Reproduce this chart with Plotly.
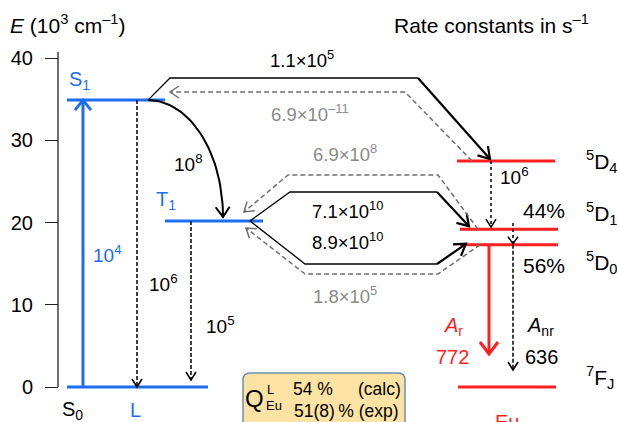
import numpy as np
import plotly.graph_objects as go

# ------------------------------------------------------------------ data
ligand_states = ["S<sub>0</sub>", "S<sub>1</sub>", "T<sub>1</sub>"]
ligand_energy = [0.0, 34.9, 20.2]                 # 10^3 cm^-1
eu_states = ["<sup>5</sup>D<sub>4</sub>", "<sup>5</sup>D<sub>1</sub>",
             "<sup>5</sup>D<sub>0</sub>", "<sup>7</sup>F<sub>J</sub>"]
eu_energy = [27.5, 19.2, 17.3, 0.0]               # 10^3 cm^-1
y_ticks = [0, 10, 20, 30, 40]

rate_ligand = ["10<sup>4</sup>", "10<sup>8</sup>", "10<sup>6</sup>", "10<sup>5</sup>"]
rate_transfer = ["1.1×10<sup>5</sup>", "6.9×10<sup>–11</sup>", "6.9×10<sup>8</sup>",
                 "7.1×10<sup>10</sup>", "8.9×10<sup>10</sup>", "1.8×10<sup>5</sup>"]
rate_eu = ["10<sup>6</sup>"]
branching = ["44%", "56%"]
a_rad, a_nonrad = 772, 636
q_calc, q_exp = "54 %", "51(8)\u2009% (exp)"

# ------------------------------------------------------------------ geometry helpers
W, H = 617, 422
PX0, K = 387.0, 8.22          # pixel row of E=0, pixels per 10^3 cm^-1


def ey(p):                     # pixel row -> energy units
    return (PX0 - p) / K


def py(e):                     # energy -> pixel row
    return PX0 - e * K


BLUE = "#1c6ef2"
RED = "#ff1f1f"
GRAY = "#6e6e6e"
GRAYTXT = "#8a8a8a"
FONT = "Liberation Sans, Arial, sans-serif"

S0, S1, T1 = ligand_energy
D4, D1, D0, FJ = eu_energy

fig = go.Figure()


def add_lines(paths, color, width, dash="solid"):
    xs, ys = [], []
    for pts in paths:
        for x, y in pts:
            xs.append(x)
            ys.append(y)
        xs.append(None)
        ys.append(None)
    fig.add_trace(go.Scatter(x=xs, y=ys, mode="lines",
                             line=dict(color=color, width=width, dash=dash),
                             hoverinfo="skip", showlegend=False))


def head(tip, prev, L=9.0, half=6.0):
    tx, ty = tip[0], py(tip[1])
    fx, fy = prev[0], py(prev[1])
    d = np.array([tx - fx, ty - fy], float)
    d /= np.linalg.norm(d)
    n = np.array([-d[1], d[0]])
    b = np.array([tx, ty]) - L * d
    p1, p2 = b + half * n, b - half * n
    return [(p1[0], ey(p1[1])), (tx, ey(ty)), (p2[0], ey(p2[1]))]


# ------------------------------------------------------------------ energy levels
levels_blue = [[(67, S0), (208, S0)], [(67, S1), (165, S1)], [(165, T1), (263, T1)]]
levels_red = [[(457, D4), (555, D4)], [(460, D1), (558, D1)],
              [(460, D0), (558, D0)], [(458, FJ), (556, FJ)]]
add_lines(levels_blue, BLUE, 3)
add_lines(levels_red, RED, 3)

# absorption arrow (blue)
abs_pts = [(83, S0), (83, S1)]
add_lines([abs_pts, head(abs_pts[1], abs_pts[0], 10, 8)], BLUE, 3)

# ligand decays (black dashed)
dS1 = [(137, S1), (137, S0)]
dT1 = [(191, T1), (191, ey(380))]
add_lines([dS1, dT1], "black", 1.5, "4px,2px")
add_lines([head(dS1[1], dS1[0], 8, 5), head(dT1[1], dT1[0], 8, 5)], "black", 1.5)

# ISC curved arrow S1 -> T1
t = np.linspace(0, np.pi / 2, 40)
cx, cy = 148, py(T1) - 4
curve = [(cx + 75 * np.sin(a), ey(cy - (cy - py(S1)) * np.cos(a))) for a in t]
add_lines([curve, head(curve[-1], curve[-4], 10, 7)], "black", 2)

# energy transfer paths (solid black)
top_y, up_y, lo_y = ey(78), ey(192), ey(264)
thin = [
    [(148, S1), (170, top_y), (418, top_y)],
    [(250, T1), (290, up_y), (437, up_y)],
    [(250, T1), (305, lo_y), (437, lo_y)],
]
add_lines(thin, "black", 1.3)
tk1 = [(418, top_y), (490, ey(py(D4) - 2))]
tk2 = [(437, up_y), (469, ey(py(D1) - 3))]
tk3 = [(437, lo_y), (466, ey(py(D0) - 1))]
add_lines([tk1, tk2, tk3, head(tk1[1], tk1[0], 11, 7), head(tk2[1], tk2[0], 11, 7),
           head(tk3[1], tk3[0], 11, 7)], "black", 2.2)

# back transfer paths (gray dashed)
g1 = [(472, D4), (405, ey(92)), (170, ey(92))]
g2 = [(478, D1), (438, ey(175)), (288, ey(175)), (244, ey(212))]
g3 = [(480, D0), (438, ey(274)), (305, ey(274)), (246, ey(228))]
add_lines([g1, g2, g3], GRAY, 1.5, "5px,3px")
add_lines([head(g1[-1], g1[-2], 9, 6), head(g2[-1], g2[-2], 9, 6),
           head(g3[-1], g3[-2], 9, 6)], GRAY, 1.5)

# Eu internal relaxation
e1 = [(491, D4), (491, ey(py(D1) - 2))]
e2 = [(513, ey(223)), (513, ey(py(D0) - 1))]
add_lines([e1, e2], "black", 1.5, "dot")
e3 = [(513, D0), (513, ey(370))]
add_lines([e3], "black", 1.5, "4px,2px")
add_lines([head(e1[1], e1[0], 8, 5), head(e2[1], e2[0], 7, 5), head(e3[1], e3[0], 8, 5)],
          "black", 1.5)

# radiative (red)
r1 = [(489, D0), (489, ey(354))]
add_lines([r1, head(r1[1], r1[0], 12, 9)], RED, 3)

# ------------------------------------------------------------------ shapes
shapes = [
    dict(type="line", xref="x", yref="y", x0=58, x1=58, y0=0, y1=ey(52),
         line=dict(color="#222", width=1.3)),
]
x0b, x1b, ytb, ybb, r = 243, 405, 373, 440, 7
box = (f"M {x0b},{ey(ybb)} L {x0b},{ey(ytb + r)} Q {x0b},{ey(ytb)} {x0b + r},{ey(ytb)} "
       f"L {x1b - r},{ey(ytb)} Q {x1b},{ey(ytb)} {x1b},{ey(ytb + r)} L {x1b},{ey(ybb)} Z")
shapes.append(dict(type="path", xref="x", yref="y", path=box, fillcolor="#fde3a3",
                   line=dict(color="#6c8db3", width=1.5), layer="below"))

# ------------------------------------------------------------------ text
ann = []


def txt(s, x, yp, color="black", size=18, xanchor="center"):
    ann.append(dict(text=s, x=x, y=ey(yp), xref="x", yref="y", showarrow=False,
                    xanchor=xanchor, yanchor="middle",
                    font=dict(family=FONT, size=size, color=color)))


txt("<i>E</i> (10<sup>3</sup> cm<sup>–1</sup>)", 8, 24, size=21, xanchor="left")
txt("Rate constants in s<sup>–1</sup>", 591, 24, size=21, xanchor="right")

txt(ligand_states[1], 79, 80, BLUE, 20)
txt(ligand_states[2], 166, 200, BLUE, 20)
txt(ligand_states[0], 72, 410, "black", 20)
txt("L", 135, 410, BLUE, 20)

txt(rate_ligand[0], 107, 254, BLUE, 19)
txt(rate_ligand[1], 188, 163, "black", 19)
txt(rate_ligand[2], 163, 283, "black", 19)
txt(rate_ligand[3], 220, 325, "black", 19)

txt(rate_transfer[0], 302, 59, "black", 18.5)
txt(rate_transfer[1], 310, 113, GRAYTXT, 18.5)
txt(rate_transfer[2], 345, 153, GRAYTXT, 18.5)
txt(rate_transfer[3], 348, 210, "black", 18.5)
txt(rate_transfer[4], 348, 241, "black", 18.5)
txt(rate_transfer[5], 345, 295, GRAYTXT, 18.5)

txt(rate_eu[0], 514, 176, "black", 19)
txt(branching[0], 544, 210, "black", 21)
txt(branching[1], 544, 265, "black", 21)

txt(eu_states[0], 584, 161, "black", 21, "left")
txt(eu_states[1], 584, 213, "black", 21, "left")
txt(eu_states[2], 584, 262, "black", 21, "left")
txt(eu_states[3], 584, 377, "black", 21, "left")

txt("<i>A</i><sub>r</sub>", 453, 326, RED, 20)
txt(str(a_rad), 452, 357, RED, 20)
txt("<i>A</i><sub>nr</sub>", 540, 326, "black", 20)
txt(str(a_nonrad), 541, 357, "black", 20)
txt("Eu", 507, 422, RED, 20)

txt("Q", 254, 398, "black", 24)
txt("L", 270, 389, "black", 13)
txt("Eu", 274, 405, "black", 13)
txt(q_calc, 313, 389, "black", 17.5)
txt("(calc)", 379, 389, "black", 17.5)
txt(q_exp, 346, 411, "black", 17.5)

fig.update_layout(
    width=W, height=H, margin=dict(l=0, r=0, t=0, b=0),
    paper_bgcolor="white", plot_bgcolor="white",
    xaxis=dict(range=[0, W], domain=[0, 1], visible=False, fixedrange=True),
    yaxis=dict(range=[ey(H), ey(0)], anchor="free", position=58 / W,
               tickvals=y_ticks, ticks="outside", ticklen=13, tickwidth=1.3,
               tickcolor="#222", showgrid=False, zeroline=False, showline=False,
               ticklabelstandoff=8,
               tickfont=dict(family=FONT, size=20, color="black"), fixedrange=True),
    shapes=shapes, annotations=ann, showlegend=False,
)

fig.write_html("out.html")
